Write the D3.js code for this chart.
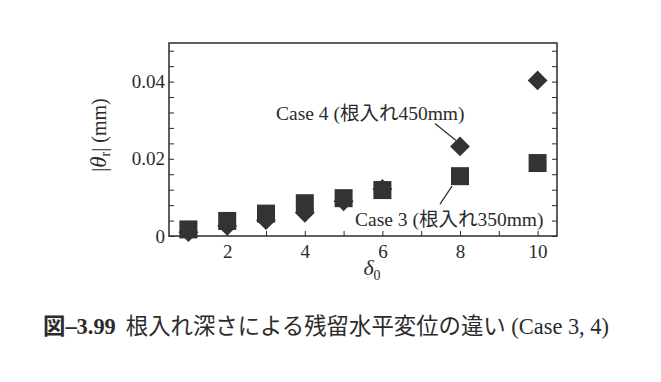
<!DOCTYPE html>
<html><head><meta charset="utf-8">
<script src="https://cdn.jsdelivr.net/npm/d3@7"></script>
<style>body{margin:0;background:#fff}svg{display:block}</style>
</head><body>
<svg id="c" width="661" height="382"></svg>
<script>
const delta = [1, 2, 3, 4, 5, 6, 8, 10];
const case3 = [0.0017, 0.0039, 0.0058, 0.0085, 0.0098, 0.0119, 0.0155, 0.0189];
const case4 = [0.0010, 0.0026, 0.0041, 0.0060, 0.0090, 0.0122, 0.0232, 0.0403];
const xTicks = [2, 4, 6, 8, 10];
const yTicks = [0, 0.02, 0.04];

const svg = d3.select("#c");
const serif = "'Liberation Serif','Times New Roman','Noto Sans CJK JP',serif";
const ink = "#2b2b2b";
const L = 169, R = 557, T = 43, B = 236;
const x = d3.scaleLinear().domain([0.5, 10.5]).range([L, R]);
const y = d3.scaleLinear().domain([0, 0.05]).range([B, T]);

const g = svg.append("g");
// frame
g.append("rect").attr("x", L).attr("y", T).attr("width", R - L).attr("height", B - T)
  .attr("fill", "none").attr("stroke", ink).attr("stroke-width", 1.5);

// axes (ticks inward)
const yMinor = d3.range(0, 0.0501, 0.004);
const xMinor = d3.range(1, 10.5, 1);
const ax = (sel) => sel.selectAll(".domain").remove();
g.append("g").attr("transform", `translate(${L},0)`)
  .call(d3.axisRight(y).tickValues(yMinor).tickSize(5).tickFormat("")).call(ax)
  .selectAll("line").attr("stroke", ink);
g.append("g").attr("transform", `translate(${R},0)`)
  .call(d3.axisLeft(y).tickValues(yMinor).tickSize(5).tickFormat("")).call(ax)
  .selectAll("line").attr("stroke", ink);
g.append("g").attr("transform", `translate(0,${B})`)
  .call(d3.axisTop(x).tickValues(xMinor).tickSize(5).tickFormat("")).call(ax)
  .selectAll("line").attr("stroke", ink);

// tick labels
g.append("g").attr("transform", `translate(${L},0)`)
  .call(d3.axisLeft(y).tickValues(yTicks).tickSize(0).tickPadding(4).tickFormat(d => d === 0 ? "0" : d3.format(".2f")(d)))
  .call(ax)
  .selectAll("text").attr("font-family", serif).attr("font-size", 19).attr("fill", ink);
g.append("g").attr("transform", `translate(0,${B})`)
  .call(d3.axisBottom(x).tickValues(xTicks).tickSize(0).tickPadding(9))
  .call(ax)
  .selectAll("text").attr("font-family", serif).attr("font-size", 19).attr("fill", ink);

// Case 4 diamonds
const dsz = 14;
g.append("g").selectAll("path").data(delta).join("path")
  .attr("d", d3.symbol(d3.symbolSquare, dsz * dsz))
  .attr("transform", (d, i) => `translate(${x(d)},${y(case4[i])}) rotate(45)`)
  .attr("fill", "#333");
// Case 3 squares
const ssz = 18;
g.append("g").selectAll("rect").data(delta).join("rect")
  .attr("x", d => x(d) - ssz / 2).attr("y", (d, i) => y(case3[i]) - ssz / 2)
  .attr("width", ssz).attr("height", ssz).attr("fill", "#333");

// annotations
g.append("line").attr("x1", x(8) - 25).attr("y1", y(case4[6]) - 23)
  .attr("x2", x(8) - 4).attr("y2", y(case4[6]) - 6).attr("stroke", ink).attr("stroke-width", 1.2);
g.append("text").attr("x", 276).attr("y", 120).attr("font-family", serif).attr("font-size", 19.5).attr("fill", ink)
  .text("Case 4 (根入れ450mm)");
g.append("line").attr("x1", x(8) - 20).attr("y1", y(case3[6]) + 28)
  .attr("x2", x(8) - 8).attr("y2", y(case3[6]) + 10).attr("stroke", ink).attr("stroke-width", 1.2);
g.append("text").attr("x", 355).attr("y", 226).attr("font-family", serif).attr("font-size", 19.5).attr("fill", ink)
  .text("Case 3 (根入れ350mm)");

// axis titles
const yt = g.append("text").attr("transform", "translate(106,135) rotate(-90)").attr("text-anchor", "middle")
  .attr("font-family", serif).attr("font-size", 20).attr("fill", ink);
yt.append("tspan").text("|");
yt.append("tspan").attr("font-style", "italic").attr("font-size", 23).text("θ");
yt.append("tspan").attr("font-size", 14).attr("dy", 4).text("r");
yt.append("tspan").attr("dy", -4).text("|  (mm)");

const xt = g.append("text").attr("x", 372).attr("y", 275).attr("text-anchor", "middle")
  .attr("font-family", serif).attr("font-size", 22).attr("fill", ink);
xt.append("tspan").attr("font-style", "italic").text("δ");
xt.append("tspan").attr("font-size", 14).attr("dy", 5).text("0");

// caption
const cap = svg.append("text").attr("x", 43).attr("y", 334).attr("font-family", serif).attr("font-size", 22.4).attr("fill", ink);
cap.append("tspan").attr("font-weight", "bold").text("図–3.99");
cap.append("tspan").attr("dx", 10).text("根入れ深さによる残留水平変位の違い (Case 3, 4)");
</script>
</body></html>
